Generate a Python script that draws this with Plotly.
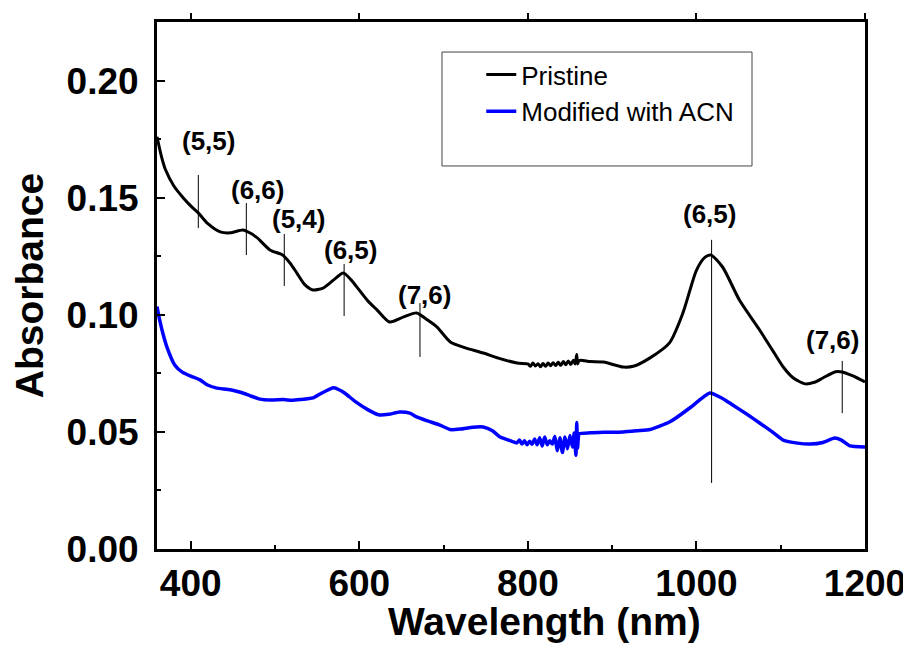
import plotly.graph_objects as go

# ---- data ----
wl_pristine = [360, 365, 370, 380, 391, 400, 409, 420, 435, 447, 462, 470, 479, 494, 509, 518, 526, 535,
               545, 557, 570, 581, 590, 597, 610, 621, 636, 652, 668, 680, 692, 708, 725, 747, 765, 787,
               800, 803, 806, 809, 812, 815, 818, 821, 824, 827, 830, 833, 836, 839, 842, 845, 848, 851,
               854, 856, 858, 859, 861, 874, 890, 913, 925, 945, 968, 984, 1000, 1010, 1017, 1031, 1051,
               1075, 1090, 1103, 1115, 1129, 1140, 1150, 1165, 1173, 1185, 1200]
abs_pristine = [0.176, 0.168, 0.162, 0.155, 0.150, 0.1465, 0.1435, 0.139, 0.1354, 0.1350, 0.1362, 0.135,
                0.1328, 0.1277, 0.1255, 0.122, 0.1178, 0.113, 0.1106, 0.1114, 0.115, 0.1178, 0.115, 0.1119,
                0.106, 0.1021, 0.0969, 0.099, 0.1008, 0.098, 0.0948, 0.0884, 0.086, 0.0837, 0.0815, 0.0794,
                0.0790, 0.0780, 0.0794, 0.0781, 0.0791, 0.0778, 0.0792, 0.0780, 0.0794, 0.0782, 0.0795,
                0.0783, 0.0797, 0.0784, 0.0800, 0.0787, 0.0803, 0.0788, 0.0806, 0.0790, 0.0830, 0.0790,
                0.0805, 0.0800, 0.0798, 0.0777, 0.0780, 0.0816, 0.088, 0.1008, 0.119, 0.1245, 0.1255,
                0.1204, 0.1063, 0.0935, 0.0850, 0.0777, 0.073, 0.0705, 0.0712, 0.073, 0.0757, 0.0756,
                0.074, 0.0713]

wl_modified = [360, 363, 367, 372, 381, 390, 400, 411, 420, 430, 447, 460, 470, 482, 495, 510, 520, 530,
               545, 555, 565, 570, 576, 583, 595, 610, 624, 635, 648, 660, 668, 680, 695, 708, 720, 735,
               747, 758, 767, 777, 787, 790, 793, 796, 799, 802, 805, 808, 811, 814, 817, 820, 823, 826,
               829, 832, 835, 838, 841, 844, 847, 850, 853, 855, 857, 858, 859, 861, 874, 890, 913, 930,
               945, 968, 992, 1005, 1016, 1030, 1043, 1060, 1075, 1090, 1103, 1120, 1135, 1150, 1164,
               1172, 1182, 1200]
abs_modified = [0.1035, 0.098, 0.092, 0.086, 0.0786, 0.0755, 0.0738, 0.0722, 0.070, 0.0688, 0.068, 0.0668,
                0.0655, 0.0640, 0.0636, 0.0638, 0.0635, 0.0638, 0.0645, 0.0665, 0.0683, 0.0688, 0.0680,
                0.0665, 0.063, 0.0595, 0.0572, 0.0575, 0.0585, 0.0580, 0.0564, 0.0548, 0.0530, 0.0510,
                0.0512, 0.0520, 0.0521, 0.0505, 0.0478, 0.0465, 0.0453, 0.0465, 0.0448, 0.0462, 0.0445,
                0.0460, 0.0447, 0.0470, 0.0445, 0.0475, 0.0440, 0.0478, 0.0445, 0.0462, 0.0448, 0.0480,
                0.0420, 0.0475, 0.0412, 0.0478, 0.0428, 0.0485, 0.0435, 0.0495, 0.0400, 0.0540, 0.0430,
                0.0492, 0.0496, 0.0498, 0.0500, 0.0505, 0.0510, 0.0542, 0.0602, 0.0640, 0.0666, 0.0645,
                0.0615, 0.0575, 0.0538, 0.050, 0.0465, 0.0452, 0.0448, 0.0455, 0.0474, 0.0465, 0.0440,
                0.0436]

# chirality labels: text, label position, marker line position and extent
peak_labels = ["(5,5)", "(6,6)", "(5,4)", "(6,5)", "(7,6)", "(6,5)", "(7,6)"]
label_wl = [421, 479, 528, 590, 677, 1016, 1162]
label_y = [0.1740, 0.1533, 0.1411, 0.1277, 0.1085, 0.1430, 0.0893]
peak_wl = [409, 466, 511, 582, 672, 1018, 1173]
line_lo = [0.137, 0.1255, 0.1123, 0.0995, 0.082, 0.0282, 0.058]
line_hi = [0.1597, 0.1477, 0.1345, 0.1217, 0.105, 0.132, 0.0803]

x_range = [360, 1200]
y_range = [0, 0.225]
x_title = "Wavelength (nm)"
y_title = "Absorbance"

FONT = "Arial, Liberation Sans, sans-serif"

fig = go.Figure()
fig.add_trace(go.Scatter(x=wl_pristine, y=abs_pristine, mode="lines", name="Pristine",
                         line=dict(color="black", width=3, shape="spline", smoothing=0.7)))
fig.add_trace(go.Scatter(x=wl_modified, y=abs_modified, mode="lines", name="Modified with ACN",
                         line=dict(color="#0000ff", width=3.5, shape="spline", smoothing=0.5)))
# invisible trace to anchor the top axis
fig.add_trace(go.Scatter(x=x_range, y=y_range, xaxis="x2", mode="lines", showlegend=False,
                         hoverinfo="skip", line=dict(color="rgba(0,0,0,0)")))

for w, lo, hi in zip(peak_wl, line_lo, line_hi):
    fig.add_shape(type="line", xref="x", yref="y", x0=w, x1=w, y0=lo, y1=hi,
                  line=dict(color="black", width=1))
for t, w, ly in zip(peak_labels, label_wl, label_y):
    fig.add_annotation(x=w, y=ly, xref="x", yref="y", text="<b>%s</b>" % t, showarrow=False,
                       font=dict(family=FONT, size=26, color="black"))

# x-axis title (placed slightly right of centre, as in the reference)
fig.add_annotation(x=0.547, y=-0.1385, xref="paper", yref="paper", xanchor="center", yanchor="middle",
                   text="<b>%s</b>" % x_title, showarrow=False,
                   font=dict(family=FONT, size=39, color="black"))

# legend frame
fig.add_shape(type="rect", xref="paper", yref="paper", x0=0.4025, x1=0.8404, y0=0.7268, y1=0.943,
              line=dict(color="#444444", width=1), fillcolor="rgba(0,0,0,0)", layer="below")

# page body has an 8px margin, so the figure is sized to the visible window area
fig.update_layout(
    width=903, height=637,
    margin=dict(l=149, r=46, t=14, b=96),
    plot_bgcolor="white", paper_bgcolor="white",
    font=dict(family=FONT, color="black"),
    showlegend=True,
    legend=dict(x=0.458, y=0.945, xanchor="left", yanchor="top", bgcolor="rgba(0,0,0,0)",
                borderwidth=0, font=dict(family=FONT, size=26, color="black"),
                tracegroupgap=0, itemwidth=30),
    xaxis=dict(range=x_range, showline=True, linecolor="black", linewidth=3, mirror=True,
               automargin=False, ticklabeloverflow="allow",
               ticks="inside", tickwidth=2, ticklen=8, tickcolor="black", dtick=200, tick0=400,
               minor=dict(ticks="inside", dtick=100, tick0=400, ticklen=4, tickwidth=2, tickcolor="black"),
               showgrid=False, zeroline=False,
               tickfont=dict(family=FONT, size=37, color="black"), tickprefix="<b>", ticksuffix="</b>"),
    xaxis2=dict(range=x_range, overlaying="x", side="top", showline=False, ticks="outside",
                tickwidth=2, ticklen=8, tickcolor="black", dtick=200, tick0=400, showticklabels=False,
                showgrid=False, zeroline=False, automargin=False),
    yaxis=dict(range=y_range, showline=True, linecolor="black", linewidth=3, mirror=True,
               automargin=False, ticklabeloverflow="allow",
               ticks="inside", tickwidth=2, ticklen=8, tickcolor="black", dtick=0.05, tick0=0,
               tickformat=".2f",
               minor=dict(ticks="inside", dtick=0.025, tick0=0, ticklen=4, tickwidth=2, tickcolor="black"),
               showgrid=False, zeroline=False,
               tickfont=dict(family=FONT, size=37, color="black"), tickprefix="<b>", ticksuffix="</b>",
               ticklabelstandoff=8,
               title=dict(text="<b>%s</b>" % y_title, font=dict(family=FONT, size=39, color="black"),
                          standoff=16)),
)

fig.write_html("out.html")
